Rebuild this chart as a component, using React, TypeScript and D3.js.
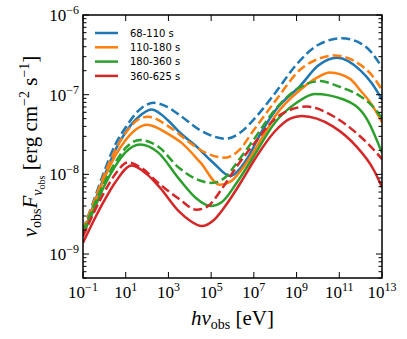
import React from "react";
import * as d3 from "d3";

const W = 407;
const H = 339;
const margin = { top: 15, right: 25, bottom: 61, left: 83 };

// legend labels and colours (tab10)
const periods = ["68-110 s", "110-180 s", "180-360 s", "360-625 s"];
const colors = ["#1f77b4", "#ff7f0e", "#2ca02c", "#d62728"];

const xTicks = [1e-1, 1e1, 1e3, 1e5, 1e7, 1e9, 1e11, 1e13];
const yTicks = [1e-9, 1e-8, 1e-7, 1e-6];

// [E (eV), nuFnu (erg cm^-2 s^-1)]
const blueDashed = [
  [1e-1, 2.0e-9], [3.2e-1, 4.7e-9], [1, 1.1e-8], [3.2, 2.35e-8], [10, 3.9e-8],
  [40, 6.3e-8], [200, 7.9e-8], [1e3, 6.9e-8], [3.2e3, 5.6e-8], [3.2e4, 3.55e-8],
  [5e5, 2.8e-8], [2.5e6, 3.4e-8], [1e7, 4.9e-8], [1e8, 1.05e-7], [1e9, 2.4e-7],
  [1e10, 4.2e-7], [1.3e11, 5.1e-7], [1e12, 4.4e-7], [3.2e12, 3.4e-7], [1e13, 2.2e-7],
];
const blueSolid = [
  [1e-1, 1.78e-9], [3.2e-1, 4.2e-9], [1, 9.5e-9], [3.2, 2.0e-8], [10, 3.4e-8],
  [40, 5.25e-8], [160, 6.5e-8], [1e3, 4.7e-8], [3.2e3, 3.4e-8], [2e4, 2.25e-8],
  [1.26e5, 1.4e-8], [8e5, 9.5e-9], [1.6e6, 1.07e-8], [5e6, 1.6e-8], [2.5e7, 3.55e-8],
  [1e8, 6.3e-8], [1.6e9, 1.32e-7], [1e10, 2.3e-7], [8e10, 2.9e-7], [1e12, 2.0e-7],
  [3.2e12, 1.41e-7], [1e13, 8.7e-8],
];
const orangeDashed = [
  [1e-1, 2.0e-9], [3.2e-1, 4.5e-9], [1, 1.0e-8], [3.2, 2.0e-8], [10, 3.3e-8],
  [32, 4.7e-8], [112, 5.3e-8], [1e3, 4.0e-8], [1e4, 2.5e-8], [4e4, 1.95e-8],
  [4.5e5, 1.62e-8], [2e6, 2.0e-8], [1e7, 3.6e-8], [1e8, 8.3e-8], [1.6e9, 2.1e-7],
  [1e10, 2.8e-7], [6.3e10, 3.1e-7], [1e12, 2.35e-7], [3.2e12, 1.78e-7], [1e13, 1.15e-7],
];
const orangeSolid = [
  [1e-1, 1.78e-9], [3.2e-1, 4.0e-9], [1, 8.9e-9], [3.2, 1.7e-8], [10, 2.7e-8],
  [32, 3.7e-8], [100, 4.2e-8], [1e3, 3.2e-8], [4e3, 2.5e-8], [3.2e4, 1.4e-8],
  [2.5e5, 7.4e-9], [8e5, 8.1e-9], [5e6, 1.45e-8], [4e7, 3.6e-8], [1e8, 5.4e-8],
  [1.6e9, 1.17e-7], [1e10, 1.66e-7], [3.6e10, 1.9e-7], [3.2e11, 1.58e-7], [1e12, 1.12e-7],
  [3.2e12, 7.6e-8], [1e13, 4.5e-8],
];
const greenDashed = [
  [1e-1, 1.9e-9], [3.2e-1, 4.0e-9], [1, 7.9e-9], [3.2, 1.4e-8], [10, 2.15e-8],
  [47, 2.7e-8], [316, 2.25e-8], [3.2e3, 1.2e-8], [3.2e4, 8.3e-9], [1e5, 7.8e-9],
  [4e5, 8.9e-9], [1.6e6, 1.4e-8], [1e7, 2.75e-8], [1e8, 6.5e-8], [1.6e9, 1.26e-7],
  [1.26e10, 1.48e-7], [1e11, 1.26e-7], [1e12, 9.5e-8], [3.2e12, 7.4e-8], [1e13, 5.1e-8],
];
const greenSolid = [
  [1e-1, 1.74e-9], [3.2e-1, 3.55e-9], [1, 7.2e-9], [3.2, 1.26e-8], [10, 1.9e-8],
  [47, 2.37e-8], [316, 1.9e-8], [3.2e3, 8.7e-9], [2e4, 5.0e-9], [9e4, 4.0e-9],
  [3.2e5, 4.5e-9], [1.6e6, 7.9e-9], [1e7, 1.7e-8], [1e8, 4.5e-8], [1e9, 7.9e-8],
  [7.2e9, 1.02e-7], [1.6e11, 8.7e-8], [2e12, 4.9e-8], [1e13, 1.86e-8],
];
const redDashed = [
  [1e-1, 1.66e-9], [3.2e-1, 3.3e-9], [1, 6.0e-9], [3.2, 1.0e-8], [12.6, 1.41e-8],
  [63, 1.17e-8], [316, 7.9e-9], [3.2e3, 4.9e-9], [2e4, 3.6e-9], [6.3e4, 3.9e-9],
  [3.2e5, 6.6e-9], [1.6e6, 1.26e-8], [1e7, 2.4e-8], [1e8, 5.0e-8], [6.3e8, 6.6e-8],
  [3e9, 7.1e-8], [5e10, 5.4e-8], [6.3e11, 3.3e-8], [4e12, 2.05e-8], [1e13, 1.55e-8],
];
const redSolid = [
  [1e-1, 1.38e-9], [3.2e-1, 2.63e-9], [1, 4.7e-9], [3.2, 7.9e-9], [19, 1.29e-8],
  [100, 1.0e-8], [400, 6.8e-9], [3.2e3, 3.4e-9], [1e4, 2.63e-9], [3.6e4, 2.24e-9],
  [1.26e5, 2.63e-9], [4e5, 3.8e-9], [3.2e6, 8.9e-9], [1e7, 1.48e-8], [1e8, 3.5e-8],
  [5e8, 5.0e-8], [1.74e9, 5.4e-8], [5e10, 4.0e-8], [6.3e11, 2.24e-8], [4e12, 1.15e-8],
  [1e13, 6.9e-9],
];

const solidSeries = [blueSolid, orangeSolid, greenSolid, redSolid];
const dashedSeries = [blueDashed, orangeDashed, greenDashed, redDashed];

const serif = "'Liberation Serif', 'DejaVu Serif', serif";

const sup = (v: number) => {
  const e = Math.round(Math.log10(v));
  return e < 0 ? "\u2212" + Math.abs(e) : String(e);
};

export default function App() {
  const x = d3
    .scaleLog()
    .domain([1e-1, 1e13])
    .range([margin.left, W - margin.right]);
  const y = d3
    .scaleLog()
    .domain([5e-10, 1e-6])
    .range([H - margin.bottom, margin.top]);

  const line = d3
    .line<number[]>()
    .x((d) => x(d[0]))
    .y((d) => y(d[1]))
    .curve(d3.curveMonotoneX);

  const x0 = margin.left;
  const x1 = W - margin.right;
  const y0 = H - margin.bottom;
  const y1 = margin.top;

  // minor y ticks 2..9 x 10^n inside domain
  const yMinor: number[] = [];
  for (let p = -10; p <= -7; p++) {
    for (let k = 2; k <= 9; k++) {
      const v = k * Math.pow(10, p);
      if (v >= 5e-10 && v <= 1e-6) yMinor.push(v);
    }
  }

  return (
    <svg
      width={W}
      height={H}
      style={{ position: "absolute", left: 0, top: 0, background: "#fff" }}
    >
      <defs>
        <clipPath id="plot">
          <rect x={x0} y={y1} width={x1 - x0} height={y0 - y1} />
        </clipPath>
      </defs>

      <g clipPath="url(#plot)" fill="none" strokeWidth={2.5}>
        {colors.map((c, i) => (
          <g key={c}>
            <path d={line(solidSeries[i]) || ""} stroke={c} />
            <path
              d={line(dashedSeries[i]) || ""}
              stroke={c}
              strokeDasharray="9,4"
            />
          </g>
        ))}
      </g>

      {/* ticks */}
      <g stroke="#000" strokeWidth={1}>
        {xTicks.map((v) => (
          <g key={"xt" + v}>
            <line x1={x(v)} x2={x(v)} y1={y0} y2={y0 - 6} />
            <line x1={x(v)} x2={x(v)} y1={y1} y2={y1 + 6} />
          </g>
        ))}
        {yTicks.map((v) => (
          <g key={"yt" + v}>
            <line x1={x0} x2={x0 + 6} y1={y(v)} y2={y(v)} />
            <line x1={x1} x2={x1 - 6} y1={y(v)} y2={y(v)} />
          </g>
        ))}
        {yMinor.map((v) => (
          <g key={"ym" + v}>
            <line x1={x0} x2={x0 + 3.5} y1={y(v)} y2={y(v)} />
            <line x1={x1} x2={x1 - 3.5} y1={y(v)} y2={y(v)} />
          </g>
        ))}
      </g>

      <rect
        x={x0}
        y={y1}
        width={x1 - x0}
        height={y0 - y1}
        fill="none"
        stroke="#000"
        strokeWidth={1.5}
      />

      {/* tick labels */}
      <g fontFamily={serif} fontSize={17} fill="#000">
        {xTicks.map((v) => (
          <text key={"xl" + v} x={x(v)} y={298} textAnchor="middle">
            10
            <tspan dy={-7} fontSize={12}>
              {sup(v)}
            </tspan>
          </text>
        ))}
        {yTicks.map((v) => (
          <text key={"yl" + v} x={79} y={y(v) + 6} textAnchor="end">
            10
            <tspan dy={-7} fontSize={12}>
              {sup(v)}
            </tspan>
          </text>
        ))}
      </g>

      {/* axis titles */}
      <text
        x={(x0 + x1) / 2}
        y={325}
        textAnchor="middle"
        fontFamily={serif}
        fontSize={21}
      >
        <tspan fontStyle="italic">hν</tspan>
        <tspan fontSize={14} dy={4}>
          obs
        </tspan>
        <tspan dy={-4}> [eV]</tspan>
      </text>
      <text
        transform="rotate(-90)"
        x={-(y0 + y1) / 2}
        y={37}
        textAnchor="middle"
        fontFamily={serif}
        fontSize={21}
      >
        <tspan fontStyle="italic">ν</tspan>
        <tspan fontSize={14} dy={4}>
          obs
        </tspan>
        <tspan fontStyle="italic" dy={-4}>
          F
        </tspan>
        <tspan fontStyle="italic" fontSize={14} dy={5}>
          ν
        </tspan>
        <tspan fontSize={10} dy={3}>
          obs
        </tspan>
        <tspan dy={-8}> [erg cm</tspan>
        <tspan fontSize={14} dy={-8}>
          −2
        </tspan>
        <tspan dy={8}> s</tspan>
        <tspan fontSize={14} dy={-8}>
          −1
        </tspan>
        <tspan dy={8}>]</tspan>
      </text>

      {/* legend */}
      <g fontFamily="'DejaVu Sans', sans-serif" fontSize={10}>
        {periods.map((p, i) => (
          <g key={p} transform={`translate(0, ${33 + i * 14.3})`}>
            <line x1={95} x2={118} y1={0} y2={0} stroke={colors[i]} strokeWidth={2.5} />
            <text x={130} y={3.6}>
              {p}
            </text>
          </g>
        ))}
      </g>
    </svg>
  );
}
